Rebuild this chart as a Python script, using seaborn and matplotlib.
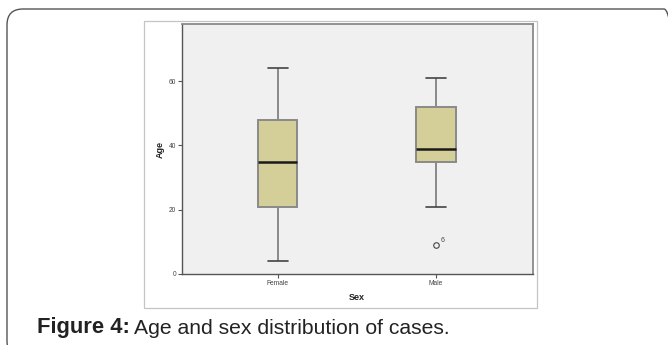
import matplotlib
matplotlib.use("Agg")
import matplotlib.pyplot as plt
import pandas as pd
import seaborn as sns
from matplotlib.patches import FancyBboxPatch, Rectangle

# ages per group (whiskers, quartiles, median)
female_ages = [4, 12, 21, 21, 28, 35, 40, 48, 48, 55, 64]
male_ages = [9, 21, 35, 35, 37, 39, 45, 52, 52, 58, 61]
categories = ["Female", "Male"]
outlier_case = "6"
y_ticks = [0, 20, 40, 60]

df = pd.DataFrame({
    "Sex": ["Female"] * len(female_ages) + ["Male"] * len(male_ages),
    "Age": female_ages + male_ages,
})

sns.set_theme(style="white")
plt.rcParams["font.family"] = ["Liberation Sans", "DejaVu Sans"]

fig = plt.figure(figsize=(6.68, 3.45), dpi=100)
W, H = 668, 345

# outer rounded frame (in inches) and inner light border
frame = FancyBboxPatch((0.07, -0.12), 6.73, 3.45 - 0.09 + 0.12,
                       boxstyle="round,pad=0,rounding_size=0.16",
                       transform=fig.dpi_scale_trans, fill=False,
                       edgecolor="#555555", linewidth=1.0)
fig.patches.append(frame)
inner = Rectangle((144 / W, (345 - 308) / H), (537 - 144) / W, (308 - 21) / H,
                  transform=fig.transFigure, fill=False,
                  edgecolor="#c4c4c4", linewidth=0.9)
fig.patches.append(inner)

ax = fig.add_axes([181.7 / W, (345 - 274) / H, (532.7 - 181.7) / W, (274 - 24) / H])
ax.set_facecolor("#f0f0f0")

sns.boxplot(
    data=df, x="Sex", y="Age", order=categories, ax=ax,
    color="#d4cf98", width=0.25, linecolor="#8a8a8a", linewidth=1.4,
    saturation=1,
    medianprops={"color": "#1a1a1a", "linewidth": 1.8},
    whiskerprops={"color": "#8a8a8a", "linewidth": 1.4},
    capprops={"color": "#444444", "linewidth": 1.2},
    flierprops={"marker": "o", "markerfacecolor": "none",
                "markeredgecolor": "#444444", "markersize": 4,
                "markeredgewidth": 0.8},
)

# label the outlier with its case number
ax.annotate(outlier_case, xy=(1, min(male_ages)), xytext=(3, 2),
            textcoords="offset points", fontsize=5, color="#444444")

ax.set_xlim(-0.606, 1.61)
ax.set_ylim(0, 77.8)
ax.set_yticks(y_ticks)
ax.tick_params(axis="both", which="both", direction="out", length=3, width=0.8,
               color="#555555", labelsize=4.8, labelcolor="#444444", pad=1,
               left=True, bottom=True)
ax.set_xlabel("Sex", fontsize=6.5, fontweight="bold", color="#222222", labelpad=5)
ax.set_ylabel("Age", fontsize=6.5, fontweight="bold", color="#222222", labelpad=3)

for side in ["top", "right"]:
    ax.spines[side].set_color("#8a8a8a")
    ax.spines[side].set_linewidth(1.3)
for side in ["left", "bottom"]:
    ax.spines[side].set_color("#555555")
    ax.spines[side].set_linewidth(1.0)

fig.text(37 / W, 1 - 328 / H, "Figure 4:", fontsize=15.8, fontweight="bold",
         color="#222222", va="center", ha="left")
fig.text(134 / W, 1 - 328 / H, "Age and sex distribution of cases.", fontsize=15.2,
         color="#222222", va="center", ha="left")

fig.savefig("out.png", dpi=100)
